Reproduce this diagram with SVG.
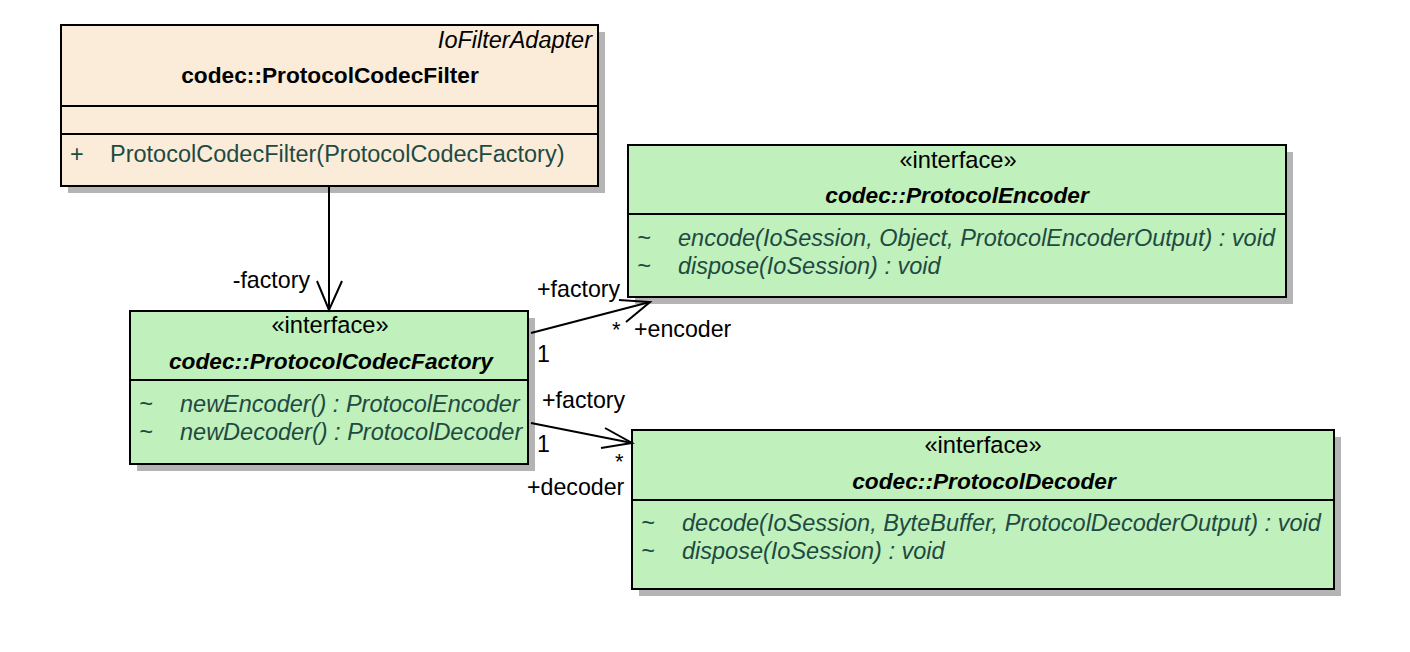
<svg xmlns="http://www.w3.org/2000/svg" width="1410" height="652" viewBox="0 0 1410 652">
<style>
.sh{fill:#b4b4b4;}
.box{stroke:#000;stroke-width:2;}
.cls{fill:#fbecd9;}
.ifc{fill:#c0f0bc;}
.div{stroke:#000;stroke-width:2;}
text{font-family:"Liberation Sans",Arial,sans-serif;font-size:23.5px;}
.st{text-anchor:middle;fill:#000;font-size:23.7px;}
.tt{text-anchor:middle;font-weight:bold;fill:#000;font-size:22.7px;}
.ti{text-anchor:middle;font-weight:bold;font-style:italic;fill:#000;font-size:22.7px;}
.m{fill:#1e4a42;}
.mi{fill:#1e4a42;font-style:italic;}
.lbl{fill:#000;font-size:23.2px;}
.star{fill:#000;font-size:22px;}
.con{stroke:#000;stroke-width:2;fill:none;}
</style>
<rect width="1410" height="652" fill="#fff"/>
<g id="ProtocolCodecFilter">
<rect class="sh" x="68" y="32" width="537" height="161"/>
<rect class="box cls" x="61" y="25" width="537" height="161"/>
<line class="div" x1="61" y1="106" x2="598" y2="106"/>
<line class="div" x1="61" y1="134" x2="598" y2="134"/>
<text x="592" y="48" text-anchor="end" font-style="italic">IoFilterAdapter</text>
<text class="tt" x="330" y="83">codec::ProtocolCodecFilter</text>
<text class="m" x="70" y="162">+</text>
<text class="m" x="110" y="162">ProtocolCodecFilter(ProtocolCodecFactory)</text>
</g>
<g id="ProtocolEncoder">
<rect class="sh" x="635" y="152" width="658" height="152"/>
<rect class="box ifc" x="628" y="145" width="658" height="152"/>
<line class="div" x1="628" y1="214" x2="1286" y2="214"/>
<text class="st" x="958" y="168">«interface»</text>
<text class="ti" x="957" y="203">codec::ProtocolEncoder</text>
<text class="mi" x="637" y="246">~</text>
<text class="mi" x="678" y="246">encode(IoSession, Object, ProtocolEncoderOutput) : void</text>
<text class="mi" x="637" y="274">~</text>
<text class="mi" x="678" y="274">dispose(IoSession) : void</text>
</g>
<g id="ProtocolCodecFactory">
<rect class="sh" x="137" y="318" width="398" height="153"/>
<rect class="box ifc" x="130" y="311" width="398" height="153"/>
<line class="div" x1="130" y1="380" x2="528" y2="380"/>
<text class="st" x="330" y="333">«interface»</text>
<text class="ti" x="331" y="369">codec::ProtocolCodecFactory</text>
<text class="mi" x="139" y="412">~</text>
<text class="mi" x="180" y="412">newEncoder() : ProtocolEncoder</text>
<text class="mi" x="139" y="440">~</text>
<text class="mi" x="180" y="440">newDecoder() : ProtocolDecoder</text>
</g>
<g id="ProtocolDecoder">
<rect class="sh" x="639" y="437" width="702" height="159"/>
<rect class="box ifc" x="632" y="430" width="702" height="159"/>
<line class="div" x1="632" y1="500" x2="1334" y2="500"/>
<text class="st" x="983" y="453">«interface»</text>
<text class="ti" x="984" y="489">codec::ProtocolDecoder</text>
<text class="mi" x="641" y="531">~</text>
<text class="mi" x="682" y="531">decode(IoSession, ByteBuffer, ProtocolDecoderOutput) : void</text>
<text class="mi" x="641" y="559">~</text>
<text class="mi" x="682" y="559">dispose(IoSession) : void</text>
</g>
<g id="connectors">
<line class="con" x1="329" y1="187" x2="329" y2="310"/>
<polyline class="con" points="317,281 329,310 342,281"/>
<text class="lbl" x="310" y="288" text-anchor="end">-factory</text>
<line class="con" x1="531" y1="333" x2="650" y2="302"/>
<polyline class="con" points="619,300 650,302 626,322"/>
<text class="lbl" x="537" y="297">+factory</text>
<text class="star" x="612" y="337">*</text>
<text class="lbl" x="634" y="337">+encoder</text>
<text class="lbl" x="537" y="362">1</text>
<line class="con" x1="531" y1="423" x2="632" y2="443"/>
<polyline class="con" points="605,428 632,443 601,448"/>
<text class="lbl" x="542" y="408">+factory</text>
<text class="lbl" x="537" y="452">1</text>
<text class="star" x="615" y="469">*</text>
<text class="lbl" x="527" y="495">+decoder</text>
</g>
</svg>
